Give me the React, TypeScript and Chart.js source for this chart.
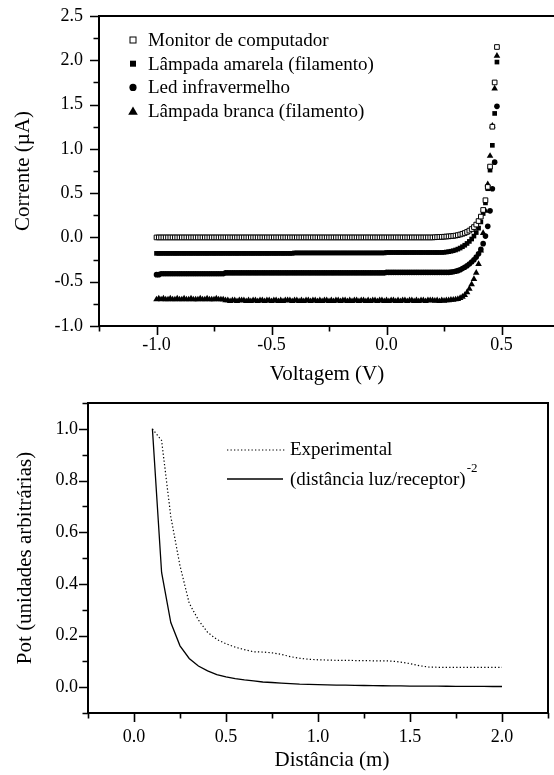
import React, { useEffect, useRef } from 'react';
import { Chart, registerables } from 'chart.js';

Chart.register(...registerables);

const SERIF = '"Liberation Serif", "Times New Roman", Times, serif';
const INK = '#000000';

// ---------- Curva corrente x voltagem ----------
const voltage = [
  -1.00, -0.99, -0.98, -0.97, -0.96, -0.95, -0.94, -0.93, -0.92, -0.91,
  -0.90, -0.89, -0.88, -0.87, -0.86, -0.85, -0.84, -0.83, -0.82, -0.81,
  -0.80, -0.79, -0.78, -0.77, -0.76, -0.75, -0.74, -0.73, -0.72, -0.71,
  -0.70, -0.69, -0.68, -0.67, -0.66, -0.65, -0.64, -0.63, -0.62, -0.61,
  -0.60, -0.59, -0.58, -0.57, -0.56, -0.55, -0.54, -0.53, -0.52, -0.51,
  -0.50, -0.49, -0.48, -0.47, -0.46, -0.45, -0.44, -0.43, -0.42, -0.41,
  -0.40, -0.39, -0.38, -0.37, -0.36, -0.35, -0.34, -0.33, -0.32, -0.31,
  -0.30, -0.29, -0.28, -0.27, -0.26, -0.25, -0.24, -0.23, -0.22, -0.21,
  -0.20, -0.19, -0.18, -0.17, -0.16, -0.15, -0.14, -0.13, -0.12, -0.11,
  -0.10, -0.09, -0.08, -0.07, -0.06, -0.05, -0.04, -0.03, -0.02, -0.01,
  0.00, 0.01, 0.02, 0.03, 0.04, 0.05, 0.06, 0.07, 0.08, 0.09,
  0.10, 0.11, 0.12, 0.13, 0.14, 0.15, 0.16, 0.17, 0.18, 0.19,
  0.20, 0.21, 0.22, 0.23, 0.24, 0.25, 0.26, 0.27, 0.28, 0.29,
  0.30, 0.31, 0.32, 0.33, 0.34, 0.35, 0.36, 0.37, 0.38, 0.39,
  0.40, 0.41, 0.42, 0.43, 0.44, 0.45, 0.46, 0.47, 0.48,
];

const monitorCurrent = [
  0, 0, 0, 0, 0, 0, 0, 0, 0, 0,
  0, 0, 0, 0, 0, 0, 0, 0, 0, 0,
  0, 0, 0, 0, 0, 0, 0, 0, 0, 0,
  0, 0, 0, 0, 0, 0, 0, 0, 0, 0,
  0, 0, 0, 0, 0, 0, 0, 0, 0, 0,
  0, 0, 0, 0, 0, 0, 0, 0, 0, 0,
  0, 0, 0, 0, 0, 0, 0, 0, 0, 0,
  0, 0, 0, 0, 0, 0, 0, 0, 0, 0,
  0, 0, 0, 0, 0, 0, 0, 0, 0, 0,
  0, 0, 0, 0, 0, 0, 0, 0, 0, 0,
  0, 0, 0, 0, 0, 0, 0, 0, 0, 0,
  0, 0, 0, 0, 0, 0, 0, 0, 0, 0,
  0.000, 0.002, 0.003, 0.005, 0.006, 0.008, 0.010, 0.012, 0.014, 0.017,
  0.021, 0.026, 0.033, 0.041, 0.050, 0.062, 0.077, 0.095, 0.117, 0.145,
  0.185, 0.235, 0.31, 0.42, 0.57, 0.80, 1.25, 1.75, 2.15,
];

const amarelaCurrent = [
  -0.18, -0.18, -0.18, -0.18, -0.18, -0.18, -0.18, -0.18, -0.18, -0.18,
  -0.18, -0.18, -0.18, -0.18, -0.18, -0.18, -0.18, -0.18, -0.18, -0.18,
  -0.18, -0.18, -0.18, -0.18, -0.18, -0.18, -0.18, -0.18, -0.18, -0.18,
  -0.18, -0.18, -0.18, -0.18, -0.18, -0.18, -0.18, -0.18, -0.18, -0.18,
  -0.18, -0.18, -0.18, -0.18, -0.18, -0.18, -0.18, -0.18, -0.18, -0.18,
  -0.18, -0.18, -0.18, -0.18, -0.18, -0.18, -0.18, -0.18, -0.18, -0.18,
  -0.175, -0.175, -0.175, -0.175, -0.175, -0.175, -0.175, -0.175, -0.175, -0.175,
  -0.175, -0.175, -0.175, -0.175, -0.175, -0.175, -0.175, -0.175, -0.175, -0.175,
  -0.175, -0.175, -0.175, -0.175, -0.175, -0.175, -0.175, -0.175, -0.175, -0.175,
  -0.175, -0.175, -0.175, -0.175, -0.175, -0.175, -0.175, -0.175, -0.175, -0.175,
  -0.17, -0.17, -0.17, -0.17, -0.17, -0.17, -0.17, -0.17, -0.17, -0.17,
  -0.17, -0.17, -0.17, -0.17, -0.17, -0.17, -0.17, -0.17, -0.17, -0.17,
  -0.17, -0.17, -0.17, -0.17, -0.17, -0.168, -0.165, -0.161, -0.156, -0.150,
  -0.142, -0.132, -0.120, -0.105, -0.088, -0.068, -0.045, -0.018, 0.015, 0.055,
  0.105, 0.175, 0.27, 0.39, 0.55, 0.76, 1.04, 1.40, 1.98,
];

const ledCurrent = [
  -0.42, -0.42, -0.41, -0.41, -0.41, -0.41, -0.41, -0.41, -0.41, -0.41,
  -0.41, -0.41, -0.41, -0.41, -0.41, -0.41, -0.41, -0.41, -0.41, -0.41,
  -0.41, -0.41, -0.41, -0.41, -0.41, -0.41, -0.41, -0.41, -0.41, -0.41,
  -0.40, -0.40, -0.40, -0.40, -0.40, -0.40, -0.40, -0.40, -0.40, -0.40,
  -0.40, -0.40, -0.40, -0.40, -0.40, -0.40, -0.40, -0.40, -0.40, -0.40,
  -0.40, -0.40, -0.40, -0.40, -0.40, -0.40, -0.40, -0.40, -0.40, -0.40,
  -0.40, -0.40, -0.40, -0.40, -0.40, -0.40, -0.40, -0.40, -0.40, -0.40,
  -0.40, -0.40, -0.40, -0.40, -0.40, -0.40, -0.40, -0.40, -0.40, -0.40,
  -0.40, -0.40, -0.40, -0.40, -0.40, -0.40, -0.40, -0.40, -0.40, -0.40,
  -0.40, -0.40, -0.40, -0.40, -0.40, -0.40, -0.40, -0.40, -0.40, -0.40,
  -0.395, -0.395, -0.395, -0.395, -0.395, -0.395, -0.395, -0.395, -0.395, -0.395,
  -0.395, -0.395, -0.395, -0.395, -0.395, -0.395, -0.395, -0.395, -0.395, -0.395,
  -0.395, -0.395, -0.395, -0.395, -0.395, -0.395, -0.395, -0.395, -0.392, -0.388,
  -0.382, -0.375, -0.365, -0.352, -0.337, -0.320, -0.300, -0.278, -0.252, -0.222,
  -0.185, -0.135, -0.070, 0.015, 0.125, 0.30, 0.55, 0.85, 1.48,
];

const brancaCurrent = [
  -0.70, -0.69, -0.70, -0.69, -0.70, -0.70, -0.69, -0.70, -0.70, -0.69,
  -0.70, -0.70, -0.69, -0.70, -0.70, -0.69, -0.70, -0.70, -0.70, -0.69,
  -0.70, -0.70, -0.69, -0.70, -0.70, -0.70, -0.69, -0.70, -0.70, -0.70,
  -0.71, -0.71, -0.72, -0.71, -0.71, -0.72, -0.71, -0.71, -0.71, -0.72,
  -0.71, -0.72, -0.71, -0.71, -0.72, -0.71, -0.71, -0.72, -0.71, -0.71,
  -0.72, -0.71, -0.71, -0.72, -0.71, -0.72, -0.71, -0.71, -0.71, -0.72,
  -0.71, -0.71, -0.72, -0.71, -0.72, -0.71, -0.71, -0.72, -0.71, -0.71,
  -0.72, -0.71, -0.72, -0.71, -0.71, -0.72, -0.71, -0.72, -0.71, -0.71,
  -0.72, -0.71, -0.71, -0.72, -0.71, -0.72, -0.71, -0.71, -0.72, -0.71,
  -0.71, -0.72, -0.71, -0.72, -0.71, -0.71, -0.72, -0.71, -0.71, -0.72,
  -0.71, -0.72, -0.71, -0.71, -0.72, -0.71, -0.72, -0.71, -0.71, -0.72,
  -0.71, -0.71, -0.72, -0.71, -0.72, -0.71, -0.71, -0.72, -0.71, -0.71,
  -0.71, -0.715, -0.71, -0.72, -0.71, -0.715, -0.71, -0.71, -0.705, -0.705,
  -0.700, -0.695, -0.685, -0.670, -0.650, -0.620, -0.580, -0.530, -0.470, -0.400,
  -0.30, -0.15, 0.05, 0.30, 0.60, 0.92, 1.26, 1.68, 2.05,
];

const ivSeriesNames = [
  'Monitor de computador',
  'Lâmpada amarela (filamento)',
  'Led infravermelho',
  'Lâmpada branca (filamento)',
];

const ivXMajor = [-1.0, -0.5, 0.0, 0.5];
const ivXMinor = [-1.25, -0.75, -0.25, 0.25];
const ivYMajor = [-1.0, -0.5, 0.0, 0.5, 1.0, 1.5, 2.0, 2.5];
const ivYMinor = [-0.75, -0.25, 0.25, 0.75, 1.25, 1.75, 2.25];

// ---------- Potência x distância ----------
const distance = [
  0.10, 0.15, 0.20, 0.25, 0.30, 0.35, 0.40, 0.45, 0.50, 0.55,
  0.60, 0.65, 0.70, 0.75, 0.80, 0.85, 0.90, 0.95, 1.00, 1.05,
  1.10, 1.15, 1.20, 1.25, 1.30, 1.35, 1.40, 1.45, 1.50, 1.55,
  1.60, 1.65, 1.70, 1.75, 1.80, 1.85, 1.90, 1.95, 2.00,
];

const potExperimental = [
  1.000, 0.955, 0.660, 0.470, 0.325, 0.260, 0.212, 0.185, 0.168, 0.155,
  0.145, 0.137, 0.136, 0.133, 0.127, 0.118, 0.112, 0.108, 0.106, 0.105,
  0.104, 0.104, 0.103, 0.103, 0.102, 0.102, 0.101, 0.097, 0.091, 0.083,
  0.078, 0.077, 0.077, 0.077, 0.077, 0.077, 0.077, 0.077, 0.077,
];

const potInverseSquare = [
  1.000, 0.444, 0.250, 0.160, 0.111, 0.082, 0.063, 0.049, 0.040, 0.033,
  0.028, 0.024, 0.020, 0.018, 0.016, 0.014, 0.012, 0.011, 0.010, 0.009,
  0.008, 0.0076, 0.0069, 0.0064, 0.0059, 0.0055, 0.0051, 0.0048, 0.0044, 0.0042,
  0.0039, 0.0037, 0.0035, 0.0033, 0.0031, 0.0029, 0.0028, 0.0026, 0.0025,
];

const potSeriesNames = ['Experimental', '(distância luz/receptor)'];
const potNameExponent = '-2';

const potXMajor = [0.0, 0.5, 1.0, 1.5, 2.0];
const potXMinor = [-0.25, 0.25, 0.75, 1.25, 1.75, 2.25];
const potYMajor = [0.0, 0.2, 0.4, 0.6, 0.8, 1.0];
const potYMinor = [-0.1, 0.1, 0.3, 0.5, 0.7, 0.9, 1.1];

// ---------- helpers ----------
type FrameOpts = {
  xMajor: number[];
  xMinor: number[];
  yMajor: number[];
  yMinor: number[];
  right: boolean;
};

function framePlugin(o: FrameOpts) {
  return {
    id: 'frame',
    afterDraw(chart: any) {
      const { ctx, chartArea } = chart;
      const { left, right, top, bottom } = chartArea;
      const xs = chart.scales.x;
      const ys = chart.scales.y;
      ctx.save();
      ctx.strokeStyle = INK;
      ctx.lineWidth = 1.6;
      ctx.beginPath();
      for (const v of o.xMajor) {
        const p = Math.round(xs.getPixelForValue(v)) + 0.5;
        ctx.moveTo(p, bottom);
        ctx.lineTo(p, bottom + 9);
      }
      for (const v of o.xMinor) {
        const p = Math.round(xs.getPixelForValue(v)) + 0.5;
        ctx.moveTo(p, bottom);
        ctx.lineTo(p, bottom + 5.5);
      }
      for (const v of o.yMajor) {
        const p = Math.round(ys.getPixelForValue(v)) + 0.5;
        ctx.moveTo(left, p);
        ctx.lineTo(left - 9, p);
      }
      for (const v of o.yMinor) {
        const p = Math.round(ys.getPixelForValue(v)) + 0.5;
        ctx.moveTo(left, p);
        ctx.lineTo(left - 5.5, p);
      }
      ctx.stroke();

      ctx.lineWidth = 2;
      ctx.lineCap = 'square';
      ctx.beginPath();
      ctx.moveTo(right, top);
      ctx.lineTo(left, top);
      ctx.lineTo(left, bottom);
      ctx.lineTo(right, bottom);
      if (o.right) {
        ctx.lineTo(right, top);
      }
      ctx.stroke();
      ctx.restore();
    },
  };
}

type TitleOpts = {
  xText: string;
  xPos: [number, number];
  yText: string;
  yPos: [number, number];
};

function titlesPlugin(o: TitleOpts) {
  return {
    id: 'axisTitles',
    afterDraw(chart: any) {
      const ctx = chart.ctx;
      ctx.save();
      ctx.fillStyle = INK;
      ctx.font = `21px ${SERIF}`;
      ctx.textAlign = 'center';
      ctx.textBaseline = 'middle';
      ctx.fillText(o.xText, o.xPos[0], o.xPos[1]);
      ctx.translate(o.yPos[0], o.yPos[1]);
      ctx.rotate(-Math.PI / 2);
      ctx.fillText(o.yText, 0, 0);
      ctx.restore();
    },
  };
}

function drawMarker(ctx: CanvasRenderingContext2D, kind: string, x: number, y: number) {
  ctx.save();
  ctx.fillStyle = INK;
  ctx.strokeStyle = INK;
  ctx.lineWidth = 1;
  if (kind === 'openSquare') {
    ctx.fillStyle = '#ffffff';
    ctx.fillRect(x - 3, y - 3, 6, 6);
    ctx.strokeRect(x - 3, y - 3, 6, 6);
  } else if (kind === 'square') {
    ctx.fillRect(x - 3, y - 3, 6, 6);
  } else if (kind === 'circle') {
    ctx.beginPath();
    ctx.arc(x, y, 3.6, 0, Math.PI * 2);
    ctx.fill();
  } else {
    ctx.beginPath();
    ctx.moveTo(x, y - 4.5);
    ctx.lineTo(x + 4.8, y + 3.6);
    ctx.lineTo(x - 4.8, y + 3.6);
    ctx.closePath();
    ctx.fill();
  }
  ctx.restore();
}

const ivMarkerKinds = ['openSquare', 'square', 'circle', 'triangle'];

const ivLegendPlugin = {
  id: 'ivLegend',
  afterDraw(chart: any) {
    const ctx = chart.ctx;
    ctx.save();
    ctx.font = `19px ${SERIF}`;
    ctx.fillStyle = INK;
    ctx.textAlign = 'left';
    ctx.textBaseline = 'middle';
    ivSeriesNames.forEach((name, i) => {
      const y = 40 + i * 23.7;
      drawMarker(ctx, ivMarkerKinds[i], 133, y);
      ctx.fillText(name, 148, y + 1);
    });
    ctx.restore();
  },
};

const potLegendPlugin = {
  id: 'potLegend',
  afterDraw(chart: any) {
    const ctx = chart.ctx;
    ctx.save();
    ctx.strokeStyle = INK;
    ctx.fillStyle = INK;
    // dotted sample
    ctx.lineWidth = 1.2;
    ctx.setLineDash([1.3, 2.2]);
    ctx.beginPath();
    ctx.moveTo(227, 60);
    ctx.lineTo(285, 60);
    ctx.stroke();
    // solid sample
    ctx.setLineDash([]);
    ctx.lineWidth = 1.4;
    ctx.beginPath();
    ctx.moveTo(227, 89);
    ctx.lineTo(283, 89);
    ctx.stroke();

    ctx.font = `19px ${SERIF}`;
    ctx.textAlign = 'left';
    ctx.textBaseline = 'middle';
    ctx.fillText(potSeriesNames[0], 290, 60);
    ctx.fillText(potSeriesNames[1], 290, 90);
    const w = ctx.measureText(potSeriesNames[1]).width;
    ctx.font = `13px ${SERIF}`;
    ctx.fillText(potNameExponent, 290 + w + 1, 79);
    ctx.restore();
  },
};

const fmt1 = (v: any) => Number(v).toFixed(1);

function ivConfig(): any {
  const series = [monitorCurrent, amarelaCurrent, ledCurrent, brancaCurrent];
  const styles = [
    { pointStyle: 'rect', pointRadius: 3.3, pointBackgroundColor: '#ffffff', pointBorderColor: INK, pointBorderWidth: 1 },
    { pointStyle: 'rect', pointRadius: 3.3, pointBackgroundColor: INK, pointBorderColor: INK, pointBorderWidth: 0 },
    { pointStyle: 'circle', pointRadius: 2.8, pointBackgroundColor: INK, pointBorderColor: INK, pointBorderWidth: 0 },
    { pointStyle: 'triangle', pointRadius: 3.8, pointBackgroundColor: INK, pointBorderColor: INK, pointBorderWidth: 0 },
  ];
  return {
    type: 'scatter',
    data: {
      datasets: series.map((vals, k) => ({
        label: ivSeriesNames[k],
        data: voltage.map((v, i) => ({ x: v, y: vals[i] })),
        showLine: false,
        ...styles[k],
      })),
    },
    options: {
      animation: false,
      responsive: false,
      devicePixelRatio: 1,
      events: [],
      layout: { autoPadding: false, padding: { top: 16, right: 0, left: 0, bottom: 0 } },
      plugins: { legend: { display: false }, tooltip: { enabled: false } },
      scales: {
        x: {
          type: 'linear',
          min: -1.25,
          max: 0.728,
          grid: { display: false, drawTicks: false },
          border: { display: false },
          afterBuildTicks: (s: any) => {
            s.ticks = ivXMajor.map((value) => ({ value }));
          },
          afterFit: (s: any) => {
            s.height = 64;
            s.paddingLeft = 0;
            s.paddingRight = 0;
          },
          ticks: {
            font: { family: SERIF, size: 18 },
            color: INK,
            padding: 8,
            maxRotation: 0,
            autoSkip: false,
            callback: fmt1,
          },
        },
        y: {
          type: 'linear',
          min: -1.0,
          max: 2.5,
          grid: { display: false, drawTicks: false },
          border: { display: false },
          afterBuildTicks: (s: any) => {
            s.ticks = ivYMajor.map((value) => ({ value }));
          },
          afterFit: (s: any) => {
            s.width = 99;
            s.paddingTop = 0;
            s.paddingBottom = 0;
          },
          ticks: {
            font: { family: SERIF, size: 18 },
            color: INK,
            padding: 16,
            autoSkip: false,
            callback: fmt1,
          },
        },
      },
    },
    plugins: [
      framePlugin({ xMajor: ivXMajor, xMinor: ivXMinor, yMajor: ivYMajor, yMinor: ivYMinor, right: false }),
      titlesPlugin({ xText: 'Voltagem (V)', xPos: [327, 374], yText: 'Corrente (µA)', yPos: [23, 171] }),
      ivLegendPlugin,
    ],
  };
}

function potConfig(): any {
  return {
    type: 'scatter',
    data: {
      datasets: [
        {
          label: potSeriesNames[0],
          data: distance.map((d, i) => ({ x: d, y: potExperimental[i] })),
          showLine: true,
          pointRadius: 0,
          borderColor: INK,
          borderWidth: 1.2,
          borderDash: [1.3, 2.2],
          tension: 0,
        },
        {
          label: potSeriesNames[1],
          data: distance.map((d, i) => ({ x: d, y: potInverseSquare[i] })),
          showLine: true,
          pointRadius: 0,
          borderColor: INK,
          borderWidth: 1.3,
          tension: 0,
        },
      ],
    },
    options: {
      animation: false,
      responsive: false,
      devicePixelRatio: 1,
      events: [],
      layout: { autoPadding: false, padding: { top: 13, right: 6, left: 0, bottom: 0 } },
      plugins: { legend: { display: false }, tooltip: { enabled: false } },
      scales: {
        x: {
          type: 'linear',
          min: -0.25,
          max: 2.25,
          grid: { display: false, drawTicks: false },
          border: { display: false },
          afterBuildTicks: (s: any) => {
            s.ticks = potXMajor.map((value) => ({ value }));
          },
          afterFit: (s: any) => {
            s.height = 62;
            s.paddingLeft = 0;
            s.paddingRight = 0;
          },
          ticks: {
            font: { family: SERIF, size: 18 },
            color: INK,
            padding: 13,
            maxRotation: 0,
            autoSkip: false,
            callback: fmt1,
          },
        },
        y: {
          type: 'linear',
          min: -0.1,
          max: 1.1,
          grid: { display: false, drawTicks: false },
          border: { display: false },
          afterBuildTicks: (s: any) => {
            s.ticks = potYMajor.map((value) => ({ value }));
          },
          afterFit: (s: any) => {
            s.width = 88;
            s.paddingTop = 0;
            s.paddingBottom = 0;
          },
          ticks: {
            font: { family: SERIF, size: 18 },
            color: INK,
            padding: 10,
            autoSkip: false,
            callback: fmt1,
          },
        },
      },
    },
    plugins: [
      framePlugin({ xMajor: potXMajor, xMinor: potXMinor, yMajor: potYMajor, yMinor: potYMinor, right: true }),
      titlesPlugin({ xText: 'Distância (m)', xPos: [332, 370], yText: 'Pot (unidades arbitrárias)', yPos: [25, 168] }),
      potLegendPlugin,
    ],
  };
}

export default function App() {
  const ivRef = useRef<HTMLCanvasElement>(null);
  const potRef = useRef<HTMLCanvasElement>(null);

  useEffect(() => {
    const ivChart = new Chart(ivRef.current as HTMLCanvasElement, ivConfig());
    const potChart = new Chart(potRef.current as HTMLCanvasElement, potConfig());
    return () => {
      ivChart.destroy();
      potChart.destroy();
    };
  }, []);

  return (
    <div
      style={{
        position: 'absolute',
        left: 0,
        top: 0,
        width: 554,
        height: 775,
        background: '#ffffff',
        overflow: 'hidden',
      }}
    >
      <canvas
        ref={ivRef}
        width={554}
        height={390}
        style={{ position: 'absolute', left: 0, top: 0, width: 554, height: 390 }}
      />
      <canvas
        ref={potRef}
        width={554}
        height={385}
        style={{ position: 'absolute', left: 0, top: 390, width: 554, height: 385 }}
      />
    </div>
  );
}
